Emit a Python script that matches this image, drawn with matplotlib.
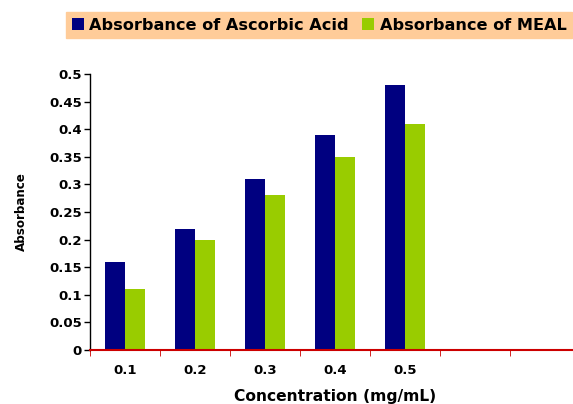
import numpy as np
import matplotlib.pyplot as plt

plt.rcParams['font.family'] = ['DejaVu Sans']

concentrations = ["0.1", "0.2", "0.3", "0.4", "0.5", "", ""]
ascorbic_acid = [0.16, 0.22, 0.31, 0.39, 0.48]
meal = [0.11, 0.20, 0.28, 0.35, 0.41]
y_ticks = [0, 0.05, 0.1, 0.15, 0.2, 0.25, 0.3, 0.35, 0.4, 0.45, 0.5]

W, H = 573, 404
fig = plt.figure(figsize=(W / 100, H / 100), dpi=100)
ax = fig.add_axes([90 / W, 1 - 350 / H, 490 / W, 276 / H])

x = np.arange(len(ascorbic_acid))
bw = 0.285
b1 = ax.bar(x - bw / 2, ascorbic_acid, bw, color="#000080", label="Absorbance of Ascorbic Acid")
b2 = ax.bar(x + bw / 2, meal, bw, color="#99CC00", label="Absorbance of MEAL")

ax.set_xlim(-0.5, len(concentrations) - 0.5)
ax.set_ylim(0, 0.5)
ax.set_yticks(y_ticks)
ax.set_yticklabels([f"{v:g}" for v in y_ticks], fontsize=9.5, fontweight="bold")

# category labels sit between the boundary ticks
ax.set_xticks(np.arange(len(concentrations)))
ax.set_xticklabels(concentrations, fontsize=9.5, fontweight="bold")
ax.tick_params(axis="x", length=0, pad=10)
ax.set_xticks(np.arange(len(concentrations) + 1) - 0.5, minor=True)
ax.tick_params(axis="x", which="minor", length=4, color="#CC0000", direction="out")
ax.tick_params(axis="y", length=4, width=1, direction="out", pad=2)

for side in ("top", "right"):
    ax.spines[side].set_visible(False)
ax.spines["bottom"].set_color("#CC0000")
ax.spines["bottom"].set_linewidth(1.5)
ax.spines["left"].set_linewidth(1)

ax.set_xlabel("Concentration (mg/mL)", fontsize=11.2, fontweight="bold", labelpad=9)
ax.set_ylabel("Absorbance", fontsize=8.6, fontweight="bold", labelpad=15)

leg = fig.legend(handles=[b1, b2], loc="upper left", bbox_to_anchor=(66 / W, 1 - 12 / H),
                 borderaxespad=0, ncol=2, frameon=True, fancybox=False, facecolor="#FFCC99",
                 edgecolor="#FFCC99", framealpha=1, handlelength=0.75, handleheight=0.75,
                 handletextpad=0.35, columnspacing=0.8, borderpad=0.35,
                 prop={"weight": "bold", "size": 11.6})

fig.savefig("out.png", dpi=100)
